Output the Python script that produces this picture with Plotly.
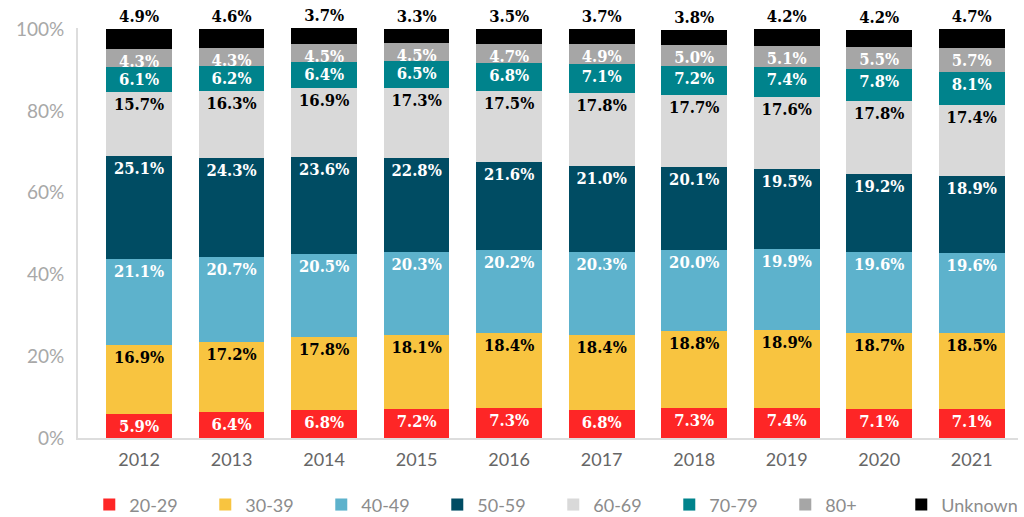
import plotly.graph_objects as go

years = ["2012", "2013", "2014", "2015", "2016", "2017", "2018", "2019", "2020", "2021"]
age_20_29 = [5.9, 6.4, 6.8, 7.2, 7.3, 6.8, 7.3, 7.4, 7.1, 7.1]
age_30_39 = [16.9, 17.2, 17.8, 18.1, 18.4, 18.4, 18.8, 18.9, 18.7, 18.5]
age_40_49 = [21.1, 20.7, 20.5, 20.3, 20.2, 20.3, 20.0, 19.9, 19.6, 19.6]
age_50_59 = [25.1, 24.3, 23.6, 22.8, 21.6, 21.0, 20.1, 19.5, 19.2, 18.9]
age_60_69 = [15.7, 16.3, 16.9, 17.3, 17.5, 17.8, 17.7, 17.6, 17.8, 17.4]
age_70_79 = [6.1, 6.2, 6.4, 6.5, 6.8, 7.1, 7.2, 7.4, 7.8, 8.1]
age_80_plus = [4.3, 4.3, 4.5, 4.5, 4.7, 4.9, 5.0, 5.1, 5.5, 5.7]
unknown = [4.9, 4.6, 3.7, 3.3, 3.5, 3.7, 3.8, 4.2, 4.2, 4.7]

y_tick_vals = [0, 20, 40, 60, 80, 100]
y_tick_text = ["0%", "20%", "40%", "60%", "80%", "100%"]

series = [
    ("20-29", age_20_29, "#fe2626", "white"),
    ("30-39", age_30_39, "#f8c440", "black"),
    ("40-49", age_40_49, "#5db2cc", "white"),
    ("50-59", age_50_59, "#004c63", "white"),
    ("60-69", age_60_69, "#d9d9d9", "black"),
    ("70-79", age_70_79, "#00838c", "white"),
    ("80+", age_80_plus, "#a6a6a6", "white"),
    ("Unknown", unknown, "#000000", "black"),
]

label_font = "DejaVu Serif Condensed"
fsize = 16.5

fig = go.Figure()
for name, vals, color, tcolor in series:
    is_top = name == "Unknown"
    tf = dict(family=label_font, size=fsize, color=tcolor, weight="bold")
    fig.add_trace(go.Bar(
        name=name,
        x=years,
        y=vals,
        marker=dict(color=color, line=dict(width=0)),
        text=[f"{v:.1f}%" for v in vals],
        textposition="outside" if is_top else "inside",
        insidetextanchor="end",
        constraintext="none",
        cliponaxis=False,
        textfont=tf,
        outsidetextfont=tf,
        insidetextfont=tf,
        hoverinfo="skip",
    ))

fig.update_layout(
    barmode="stack",
    bargap=0.29,
    width=1024,
    height=517,
    margin=dict(l=78, r=6, t=28, b=79, autoexpand=False),
    paper_bgcolor="white",
    plot_bgcolor="white",
    font=dict(family="Lato", color="#888888"),
    showlegend=True,
    legend=dict(
        orientation="h",
        x=0.012, xanchor="left",
        y=-0.118, yanchor="top",
        font=dict(family="Lato", size=18, color="#8c8c8c"),
        entrywidth=71,
        entrywidthmode="pixels",
        traceorder="normal",
        itemsizing="constant",
    ),
)

fig.update_xaxes(
    range=[-0.66, 9.5],
    showline=True, linecolor="#dddddd", linewidth=2,
    tickfont=dict(family="Lato", size=18, color="#666666"),
    ticks="", showgrid=False, zeroline=False,
    ticklabelstandoff=4,
)
fig.update_yaxes(
    range=[0, 100.3],
    tickvals=y_tick_vals,
    ticktext=y_tick_text,
    showline=True, linecolor="#dddddd", linewidth=2,
    tickfont=dict(family="Lato", size=19, color="#a8a8a8"),
    ticks="", showgrid=False, zeroline=False,
    ticklabelstandoff=8,
)

fig.write_html(
    "out.html",
    config={"displayModeBar": False},
    post_script="document.body.style.margin='0';document.body.style.overflow='hidden';",
)
